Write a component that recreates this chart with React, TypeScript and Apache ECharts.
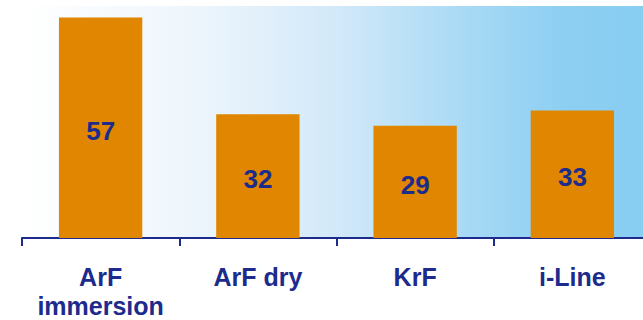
import React, { useEffect, useRef } from "react";
import * as echarts from "echarts";

const categories = ["ArF\nimmersion", "ArF dry", "KrF", "i-Line"];
const values = [57, 32, 29, 33];

const NAVY = "#1C2B8C";
const ORANGE = "#E08600";
const FONT = "'Liberation Sans', Arial, sans-serif";

export default function App() {
  const ref = useRef<HTMLDivElement>(null);
  useEffect(() => {
    if (!ref.current) return;
    const chart = echarts.init(ref.current, undefined, { renderer: "svg" });
    chart.setOption({
      animation: false,
      grid: {
        left: 22,
        right: 9,
        top: 6,
        bottom: 82,
        show: true,
        borderWidth: 0,
        backgroundColor: new echarts.graphic.LinearGradient(0, 0, 1, 0, [
          { offset: 0, color: "#FFFFFF" },
          { offset: 0.28, color: "#EDF5FC" },
          { offset: 0.5, color: "#D2E9F9" },
          { offset: 0.7, color: "#A9DAF5" },
          { offset: 0.86, color: "#8DCFF2" },
          { offset: 1, color: "#87CDF2" },
        ]),
      },
      xAxis: {
        type: "category",
        data: categories,
        axisLine: { show: true, lineStyle: { color: NAVY, width: 2 } },
        axisTick: { show: true, interval: 0, length: 8, lineStyle: { color: NAVY, width: 2 } },
        axisLabel: {
          interval: 0,
          hideOverlap: false,
          color: NAVY,
          fontSize: 25,
          fontWeight: "bold",
          fontFamily: FONT,
          lineHeight: 29,
          margin: 24,
        },
      },
      yAxis: {
        type: "value",
        min: 0,
        max: 60,
        show: false,
        splitLine: { show: false },
      },
      series: [
        {
          type: "bar",
          data: values,
          barWidth: "53%",
          itemStyle: { color: ORANGE },
          label: {
            show: true,
            position: "inside",
            offset: [0, 3],
            color: NAVY,
            fontSize: 26,
            fontWeight: "bold",
            fontFamily: FONT,
          },
        },
      ],
    });
    return () => chart.dispose();
  }, []);
  return (
    <div style={{ position: "fixed", left: 0, top: 0, width: 643, height: 320, overflow: "hidden", background: "#fff" }}>
      <div ref={ref} style={{ width: 660, height: 320 }} />
    </div>
  );
}
